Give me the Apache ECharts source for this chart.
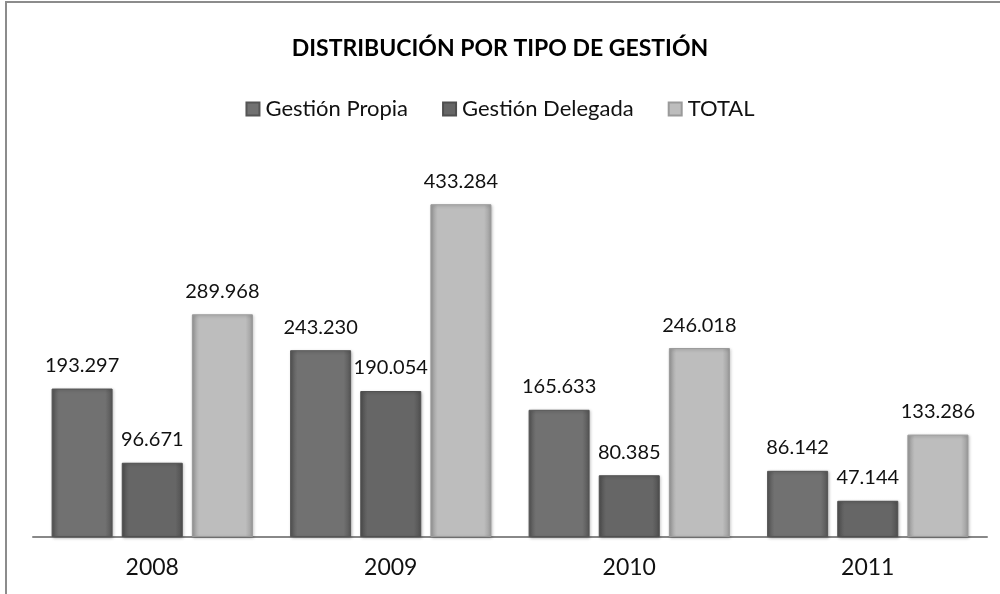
<!DOCTYPE html>
<html>
<head>
<meta charset="utf-8">
<script src="https://cdn.jsdelivr.net/npm/echarts@6/dist/echarts.min.js"></script>
<style>
html,body{margin:0;padding:0;background:#fff;}
#c{width:1000px;height:594px;}
</style>
</head>
<body>
<div id="c"></div>
<script>
const categories = ['2008', '2009', '2010', '2011'];
const gestionPropia = [193.297, 243.230, 165.633, 86.142];
const gestionDelegada = [96.671, 190.054, 80.385, 47.144];
const total = [289.968, 433.284, 246.018, 133.286];
const seriesNames = ['Gestión Propia', 'Gestión Delegada', 'TOTAL'];

function grad(edge, mid) {
  return new echarts.graphic.LinearGradient(0, 0, 1, 0, [
    {offset: 0, color: edge},
    {offset: 0.12, color: mid},
    {offset: 0.88, color: mid},
    {offset: 1, color: edge}
  ]);
}
const fmt = p => p.value.toFixed(3);
const font = 'Lato, "Open Sans", sans-serif';

function mk(name, data, edge, mid) {
  return {
    name: name,
    type: 'bar',
    data: data,
    barWidth: 61,
    barGap: '15%',
    itemStyle: {color: grad(edge, mid), borderColor: edge, borderWidth: 1,
      shadowColor: 'rgba(0,0,0,0.25)', shadowBlur: 3, shadowOffsetX: 1, shadowOffsetY: 1},
    label: {show: true, position: 'top', distance: 13, formatter: fmt,
      fontFamily: font, fontSize: 20, color: '#111'}
  };
}

const chart = echarts.init(document.getElementById('c'));
chart.setOption({
  animation: false,
  backgroundColor: '#fff',
  graphic: [{type: 'rect', shape: {x: 6, y: 2, width: 1200, height: 800},
    style: {fill: 'none', stroke: '#8c8c8c', lineWidth: 2}, silent: true}],
  title: {text: 'DISTRIBUCIÓN POR TIPO DE GESTIÓN', left: 'center', top: 32,
    textStyle: {fontFamily: font, fontWeight: 'bold', fontSize: 23, color: '#000'}},
  legend: {top: 93, left: 'center', itemWidth: 13, itemHeight: 13, itemGap: 34,
    icon: 'rect', data: seriesNames,
    textStyle: {fontFamily: font, fontSize: 22, color: '#111', padding: [0, 0, 0, 1]}},
  grid: {left: 33, right: 13, top: 153, bottom: 57},
  xAxis: {type: 'category', data: categories,
    axisLine: {lineStyle: {color: '#888', width: 2}},
    axisTick: {show: false},
    axisLabel: {fontFamily: font, fontSize: 23, color: '#111', margin: 19}},
  yAxis: {type: 'value', min: 0, max: 500, show: false, splitLine: {show: false}},
  series: [
    mk(seriesNames[0], gestionPropia, '#555555', '#717171'),
    mk(seriesNames[1], gestionDelegada, '#4f4f4f', '#666666'),
    mk(seriesNames[2], total, '#9a9a9a', '#bdbdbd')
  ]
});
</script>
</body>
</html>
